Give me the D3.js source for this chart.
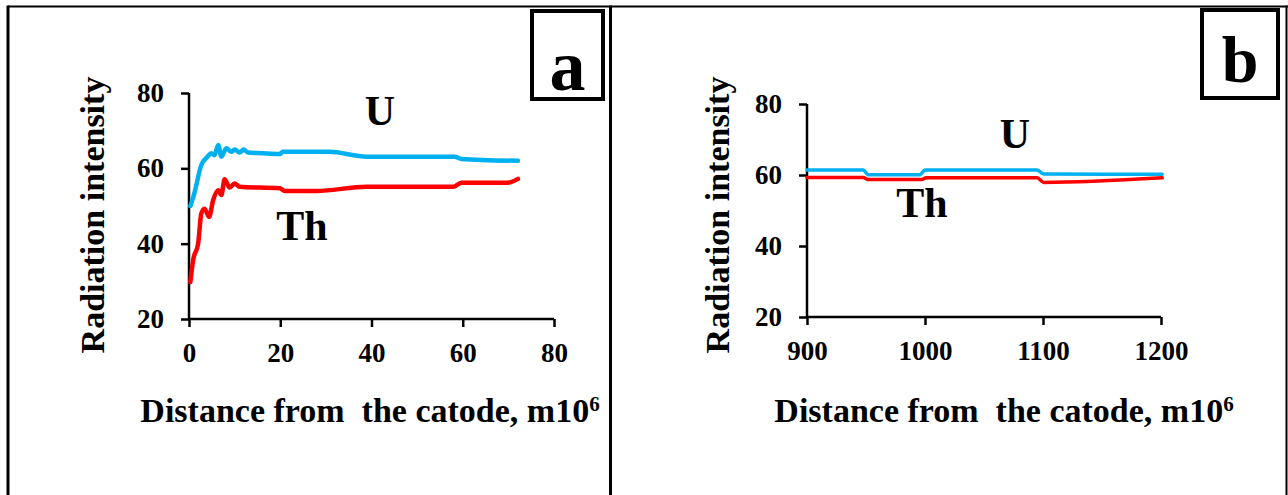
<!DOCTYPE html>
<html><head><meta charset="utf-8">
<script src="https://cdn.jsdelivr.net/npm/d3@7"></script>
<style>
html,body{margin:0;padding:0;background:#fff;}
svg{display:block;}
text{font-family:"Liberation Serif","Times New Roman",serif;font-weight:bold;fill:#000;}
</style></head>
<body>
<script>
// ---- Data ----
const aDistU = [0.3, 1.2, 2.7, 4.0, 4.9, 5.6, 6.4, 7.1, 8.2, 9.3, 10.0, 11.1, 12.0, 12.9, 16.0, 19.9, 20.6, 30.8, 38.9, 58.2, 59.7, 72.1];
const aU     = [50.0, 53.5, 60.9, 63.0, 64.0, 63.5, 66.2, 63.1, 65.3, 64.4, 65.0, 64.2, 65.0, 64.2, 64.0, 63.8, 64.4, 64.4, 63.1, 63.1, 62.5, 62.0];
const aDistTh = [0.3, 0.9, 2.0, 2.7, 3.4, 4.4, 5.3, 6.4, 7.1, 7.8, 8.9, 10.0, 11.1, 19.9, 21.0, 27.9, 38.9, 57.9, 59.7, 69.9, 72.1];
const aTh     = [29.8, 35.6, 40.0, 48.0, 49.3, 47.1, 51.6, 54.2, 52.9, 57.1, 54.9, 56.0, 55.1, 54.7, 54.0, 54.0, 55.1, 55.1, 56.2, 56.2, 57.2];

const bDistU = [900, 947.6, 951.8, 995.8, 1000, 1094.9, 1100.6, 1201];
const bU     = [61.4, 61.4, 60.1, 60.1, 61.4, 61.4, 60.3, 60.2];
const bDistTh = [900, 947.6, 951.8, 997, 1001, 1095, 1100.6, 1201];
const bTh     = [59.3, 59.3, 58.7, 58.7, 59.2, 59.2, 57.9, 59.2];

const aXTicks = [0, 20, 40, 60, 80];
const bXTicks = [900, 1000, 1100, 1200];
const yTicks = [20, 40, 60, 80];

const W = 1288, H = 495;
const svg = d3.select("body").append("svg").attr("width", W).attr("height", H);

// frame
const frame = svg.append("g").attr("stroke", "#000").attr("fill", "none");
frame.append("line").attr("x1", 8).attr("x2", 1288).attr("y1", 6.5).attr("y2", 6.5).attr("stroke-width", 2);
frame.append("line").attr("x1", 8).attr("x2", 8).attr("y1", 5.5).attr("y2", 495).attr("stroke-width", 3);
frame.append("line").attr("x1", 610.5).attr("x2", 610.5).attr("y1", 5.5).attr("y2", 495).attr("stroke-width", 3);
frame.append("line").attr("x1", 1286.5).attr("x2", 1286.5).attr("y1", 5.5).attr("y2", 495).attr("stroke-width", 2);

function panel(cfg) {
  const x = d3.scaleLinear().domain(cfg.xDomain).range(cfg.xRange);
  const y = d3.scaleLinear().domain([20, 80]).range(cfg.yRange);
  const g = svg.append("g");

  const xAxis = d3.axisBottom(x).tickValues(cfg.xTicks).tickSize(8).tickPadding(16).tickFormat(d3.format("d"));
  const gx = g.append("g").attr("transform", `translate(0,${cfg.yRange[0]})`).call(xAxis);
  const yAxis = d3.axisLeft(y).tickValues(yTicks).tickSize(8).tickPadding(17).tickFormat(d3.format("d"));
  const gy = g.append("g").attr("transform", `translate(${cfg.xRange[0]},0)`).call(yAxis);
  [gx, gy].forEach(a => {
    a.select(".domain").attr("stroke", "#000").attr("stroke-width", 2.5);
    a.selectAll(".tick line").attr("stroke", "#000").attr("stroke-width", 2.5);
    a.selectAll(".tick text").style("font-size", "27px").style("font-family", "Liberation Serif").style("font-weight", "bold").attr("fill", "#000");
  });
  gx.select(".domain").attr("d", `M${cfg.xRange[0]},0H${cfg.xRange[1]}`);
  gy.select(".domain").attr("d", `M0,${cfg.yRange[0]}V${cfg.yRange[1]}`);

  const line = d3.line().x(d => x(d[0])).y(d => y(d[1])).curve(d3.curveMonotoneX);
  g.append("path").datum(d3.zip(cfg.thX, cfg.thY)).attr("d", line)
    .attr("fill", "none").attr("stroke", "#FF0000").attr("stroke-width", cfg.lw).attr("stroke-linejoin", "round").attr("stroke-linecap", "round");
  g.append("path").datum(d3.zip(cfg.uX, cfg.uY)).attr("d", line)
    .attr("fill", "none").attr("stroke", "#00B0F0").attr("stroke-width", cfg.lw).attr("stroke-linejoin", "round").attr("stroke-linecap", "round");

  g.append("text").attr("x", cfg.uPos[0]).attr("y", cfg.uPos[1]).attr("text-anchor", "middle").style("font-size", "42px").text("U");
  g.append("text").attr("x", cfg.thPos[0]).attr("y", cfg.thPos[1]).attr("text-anchor", "middle").style("font-size", "42px").text("Th");

  const xt = g.append("text").attr("x", cfg.xTitle[0]).attr("y", cfg.xTitle[1]).attr("text-anchor", "middle").style("font-size", "34px");
  xt.append("tspan").text("Distance from\u00A0 the catode, m10");
  xt.append("tspan").attr("dy", -11).style("font-size", "21px").text("6");

  g.append("text").attr("transform", `translate(${cfg.yTitle[0]},${cfg.yTitle[1]}) rotate(-90)`)
    .attr("text-anchor", "middle").style("font-size", "34px").text("Radiation intensity");

  g.append("rect").attr("x", cfg.box[0]).attr("y", cfg.box[1]).attr("width", cfg.box[2]).attr("height", cfg.box[3])
    .attr("fill", "#fff").attr("stroke", "#000").attr("stroke-width", 4);
  g.append("text").attr("x", cfg.box[0] + cfg.box[2] / 2).attr("y", cfg.letterY).attr("text-anchor", "middle")
    .style("font-size", cfg.letterSize).text(cfg.letter);
}

panel({
  xDomain: [0, 80], xRange: [189, 554], yRange: [319, 93], xTicks: aXTicks,
  uX: aDistU, uY: aU, thX: aDistTh, thY: aTh, lw: 4.5,
  uPos: [380, 125], thPos: [302, 240],
  xTitle: [370, 422], yTitle: [104, 215],
  box: [532, 11, 71, 88], letter: "a", letterY: 90, letterSize: "72px"
});
panel({
  xDomain: [900, 1200], xRange: [807, 1161], yRange: [317, 104], xTicks: bXTicks,
  uX: bDistU, uY: bU, thX: bDistTh, thY: bTh, lw: 3.5,
  uPos: [1015, 148], thPos: [922, 217],
  xTitle: [1004, 422], yTitle: [729, 215],
  box: [1202, 10, 76, 88], letter: "b", letterY: 82, letterSize: "66px"
});
</script>
</body></html>
